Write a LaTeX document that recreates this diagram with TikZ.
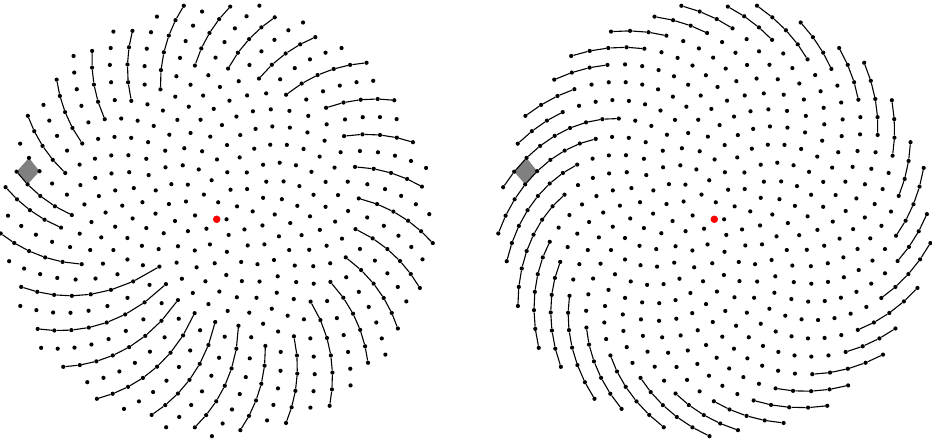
\documentclass[tikz,border=0pt]{standalone}
\usetikzlibrary{positioning}
\pgfdeclarelayer{bg}
\pgfsetlayers{bg,main}
\def\nmax{491}
\def\gold{137.50776}
\def\rscale{9.84}
\begin{document}
\begin{tikzpicture}[x=1pt,y=1pt,
 seed/.style={circle,fill=black,inner sep=0pt,minimum size=4.2pt},
 hub/.style={circle,fill=red,inner sep=0pt,minimum size=7.5pt},
 arm/.style={line width=1.1pt},
 cell/.style={fill=gray}]
 \useasboundingbox (0,0) rectangle (932,443);
 \foreach \side/\cx in {L/216.7,R/714.3}{
   \node[hub] (\side0) at (\cx,223.7) {};
   \foreach \n in {1,...,\nmax}{
     \edef\px{\fpeval{round(\cx+\rscale*sqrt(\n)*cosd(-\gold*(\n-1)),2)}}
     \edef\py{\fpeval{round(223.7+\rscale*sqrt(\n)*sind(-\gold*(\n-1)),2)}}
     \node[seed] (\side\n) at (\px,\py) {};
   }
 }
 \begin{pgfonlayer}{bg}
   \foreach \side in {L,R}
     \fill[cell] (\side437.center) -- (\side403.center) -- (\side348.center)
       -- (\side382.center) -- cycle;
 \end{pgfonlayer}
 \foreach \j in {0,...,27}{
   \edef\lres{\fpeval{52+42*\j-55*floor((52+42*\j)/55)}}
   \edef\lout{\fpeval{\lres+55*floor((\nmax-\lres)/55)}}
   \edef\lang{\fpeval{-\gold*(\lout-1)+360*ceil(\gold*(\lout-1)/360)}}
   \edef\lgap{\fpeval{\lang-191-360*floor((\lang-191)/360)}}
   \edef\lmin{\fpeval{((142-120*exp(-\lgap/58))/\rscale)^2}}
   \edef\lsteps{\fpeval{max(1,floor((\lout-\lmin)/55))}}
   \gdef\chain{}
   \foreach \k [evaluate=\k as \m using int(\lout-55*\k)] in {1,...,\lsteps}
     {\xdef\chain{\chain -- (L\m)}}
   \draw[arm] (L\lout) \chain;
 }
 \foreach \j in {0,...,33}{
   \edef\rout{\fpeval{\j+34*floor((\nmax-\j)/34)}}
   \edef\rang{\fpeval{-\gold*(\rout-1)+360*ceil(\gold*(\rout-1)/360)}}
   \edef\rgap{\fpeval{\rang-168-360*floor((\rang-168)/360)}}
   \edef\rmin{\fpeval{((184-60*exp(-\rgap/63))/\rscale)^2}}
   \edef\rsteps{\fpeval{max(1,floor((\rout-\rmin)/34))}}
   \gdef\chain{}
   \foreach \k [evaluate=\k as \m using int(\rout-34*\k)] in {1,...,\rsteps}
     {\xdef\chain{\chain -- (R\m)}}
   \draw[arm] (R\rout) \chain;
 }
\end{tikzpicture}
\end{document}
